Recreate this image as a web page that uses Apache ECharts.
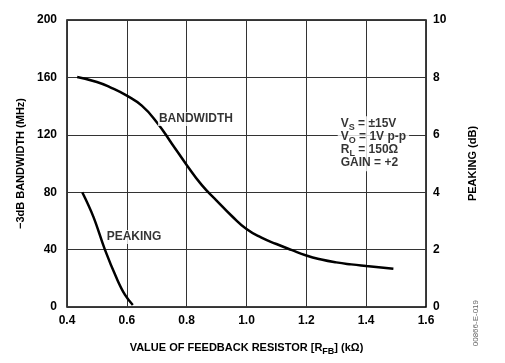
<!DOCTYPE html>
<html><head><meta charset="utf-8">
<script src="https://cdn.jsdelivr.net/npm/echarts@6/dist/echarts.min.js"></script>
<style>html,body{margin:0;padding:0;background:#fff}#c{width:505px;height:363px}</style>
</head><body><div id="c"></div>
<script>
// Bandwidth (MHz) vs feedback resistor (kΩ)
const bwX = [0.434, 0.5, 0.55, 0.6, 0.65, 0.7, 0.75, 0.8, 0.85, 0.9, 0.95, 1.0, 1.05, 1.1, 1.15, 1.2, 1.25, 1.3, 1.35, 1.4, 1.45, 1.491];
const bwY = [160.3, 156.8, 152.6, 147.3, 140.3, 128.8, 114, 99, 85.1, 74.2, 63.6, 54.3, 48.3, 43.9, 39.8, 35.9, 33.1, 31.1, 29.7, 28.6, 27.6, 26.7];
// Peaking (dB) vs feedback resistor (kΩ)
const pkX = [0.451, 0.488, 0.527, 0.566, 0.594, 0.62];
const pkY = [4.0, 3.15, 1.99, 1.0, 0.42, 0.07];
const xTicks = [0.4, 0.6, 0.8, 1.0, 1.2, 1.4, 1.6];
const leftTicks = [0, 40, 80, 120, 160, 200];
const rightTicks = [0, 2, 4, 6, 8, 10];

const FONT = 'Liberation Sans, Arial, sans-serif';
const chart = echarts.init(document.getElementById('c'));
chart.setOption({
  animation: false,
  textStyle: {fontFamily: FONT},
  grid: {left: 67, right: 79, top: 20, bottom: 56, show: true, borderColor: '#000', borderWidth: 1.5, backgroundColor: 'transparent'},
  xAxis: {
    type: 'value', min: xTicks[0], max: xTicks[xTicks.length-1], interval: 0.2,
    axisLine: {show: false}, axisTick: {show: false},
    splitLine: {show: true, lineStyle: {color: '#333', width: 1}},
    axisLabel: {color: '#000', fontWeight: 'bold', fontSize: 12, margin: 8, formatter: v => v.toFixed(1)},
    name: '{a|VALUE OF FEEDBACK RESISTOR [R}{s|FB}{a|] (kΩ)}',
    nameLocation: 'middle', nameGap: 33,
    nameTextStyle: {rich: {
      a: {fontFamily: FONT, fontWeight: 'bold', fontSize: 11, color: '#000'},
      s: {fontFamily: FONT, fontWeight: 'bold', fontSize: 9, color: '#000', padding: [7,0,0,0]}
    }}
  },
  yAxis: [{
    type: 'value', min: leftTicks[0], max: leftTicks[leftTicks.length-1], interval: 40,
    axisLine: {show: false}, axisTick: {show: false},
    splitLine: {show: true, lineStyle: {color: '#333', width: 1}},
    axisLabel: {color: '#000', fontWeight: 'bold', fontSize: 12, margin: 10},
    name: '−3dB BANDWIDTH (MHz)', nameLocation: 'middle', nameGap: 38, nameRotate: 90,
    nameTextStyle: {color: '#000', fontWeight: 'bold', fontSize: 11}
  }, {
    type: 'value', min: rightTicks[0], max: rightTicks[rightTicks.length-1], interval: 2, position: 'right',
    axisLine: {show: false}, axisTick: {show: false}, splitLine: {show: false},
    axisLabel: {color: '#000', fontWeight: 'bold', fontSize: 12, margin: 7},
    name: 'PEAKING (dB)', nameLocation: 'middle', nameGap: 41, nameRotate: 90,
    nameTextStyle: {color: '#000', fontWeight: 'bold', fontSize: 11}
  }],
  series: [{
    type: 'line', name: 'BANDWIDTH', yAxisIndex: 0, smooth: 0.5, showSymbol: false,
    lineStyle: {color: '#000', width: 2.5},
    data: bwX.map((x, i) => [x, bwY[i]])
  }, {
    type: 'line', name: 'PEAKING', yAxisIndex: 1, smooth: 0.4, showSymbol: false,
    lineStyle: {color: '#000', width: 2.5},
    data: pkX.map((x, i) => [x, pkY[i]])
  }, {
    type: 'scatter', yAxisIndex: 0, symbolSize: 0, z: 5,
    data: [
      {value: [0.831, 131], label: {formatter: 'BANDWIDTH', align: 'center', verticalAlign: 'middle'}},
      {value: [0.624, 48.8], label: {formatter: 'PEAKING', align: 'center', verticalAlign: 'middle'}},
      {value: [1.305, 133], label: {
        formatter: '{a|V}{s|S}{a| = ±15V}\n{a|V}{s|O}{a| = 1V p-p}\n{a|R}{s|L}{a| = 150Ω}\n{a|GAIN = +2}',
        align: 'left', verticalAlign: 'top', padding: [1, 3, 2, 3],
        rich: {
          a: {fontFamily: FONT, fontWeight: 'bold', fontSize: 12, color: '#000', lineHeight: 13},
          s: {fontFamily: FONT, fontWeight: 'bold', fontSize: 9, color: '#000', lineHeight: 13, padding: [8,0,0,0]}
        }
      }}
    ],
    label: {show: true, position: [0, 0], color: '#000', fontWeight: 'bold', fontSize: 12, fontFamily: FONT, backgroundColor: '#fff', padding: [1, 1]}
  }],
  graphic: [{
    type: 'text', left: 472, top: 300, rotation: Math.PI / 2, originX: 0, originY: 0,
    style: {text: '00866-E-019', fill: '#666', font: '8px ' + FONT}
  }]
});
</script></body></html>
